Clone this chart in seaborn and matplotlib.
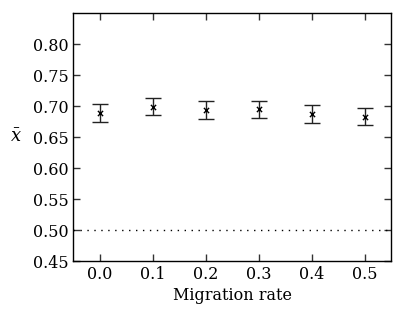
import matplotlib
matplotlib.use("Agg")
import matplotlib.pyplot as plt
import numpy as np
import pandas as pd
import seaborn as sns

migration = [0.0, 0.1, 0.2, 0.3, 0.4, 0.5]
mean_x = [0.689, 0.699, 0.6935, 0.695, 0.687, 0.683]
err_x = [0.0145, 0.014, 0.014, 0.0137, 0.0143, 0.0142]
yticks = [0.45, 0.50, 0.55, 0.60, 0.65, 0.70, 0.75, 0.80]
xticks = [0.0, 0.1, 0.2, 0.3, 0.4, 0.5]

sns.set_theme(style="ticks")
plt.rcParams['font.family'] = ['DejaVu Serif']
plt.rcParams['mathtext.fontset'] = 'dejavuserif'
plt.rcParams['text.color'] = 'black'
plt.rcParams['axes.labelcolor'] = 'black'
plt.rcParams['xtick.color'] = 'black'
plt.rcParams['ytick.color'] = 'black'

df = pd.DataFrame({"m": migration, "x": mean_x, "err": err_x})

fig = plt.figure(figsize=(4.04, 3.18), dpi=100)
ax = fig.add_axes([0.181, 0.179, 0.787, 0.780])

ax.errorbar(df["m"], df["x"], yerr=df["err"], fmt='none', ecolor='#222222',
            elinewidth=1, capsize=5.5, capthick=1)
sns.scatterplot(data=df, x="m", y="x", marker='x', color='black', s=14,
                linewidth=1, ax=ax, zorder=3)
ax.axhline(0.5, color='black', linestyle=(0, (1, 4)), linewidth=1)

ax.set_xlim(-0.05, 0.55)
ax.set_ylim(0.45, 0.85)
ax.set_xticks(xticks)
ax.set_yticks(yticks)
ax.set_xticklabels([f"{t:.1f}" for t in xticks])
ax.set_yticklabels([f"{t:.2f}" for t in yticks])
ax.tick_params(which='both', direction='in', top=True, right=True,
               length=5, width=1, labelsize=11.5, color='#333333',
               labelcolor='black')
for s in ax.spines.values():
    s.set_color('black')
    s.set_linewidth(1)

ax.set_xlabel("Migration rate", fontsize=11.5, labelpad=3)
ax.set_ylabel(r"$\bar{x}$", fontsize=13, rotation=0, labelpad=12, va='center')

fig.savefig("out.png", dpi=100)
